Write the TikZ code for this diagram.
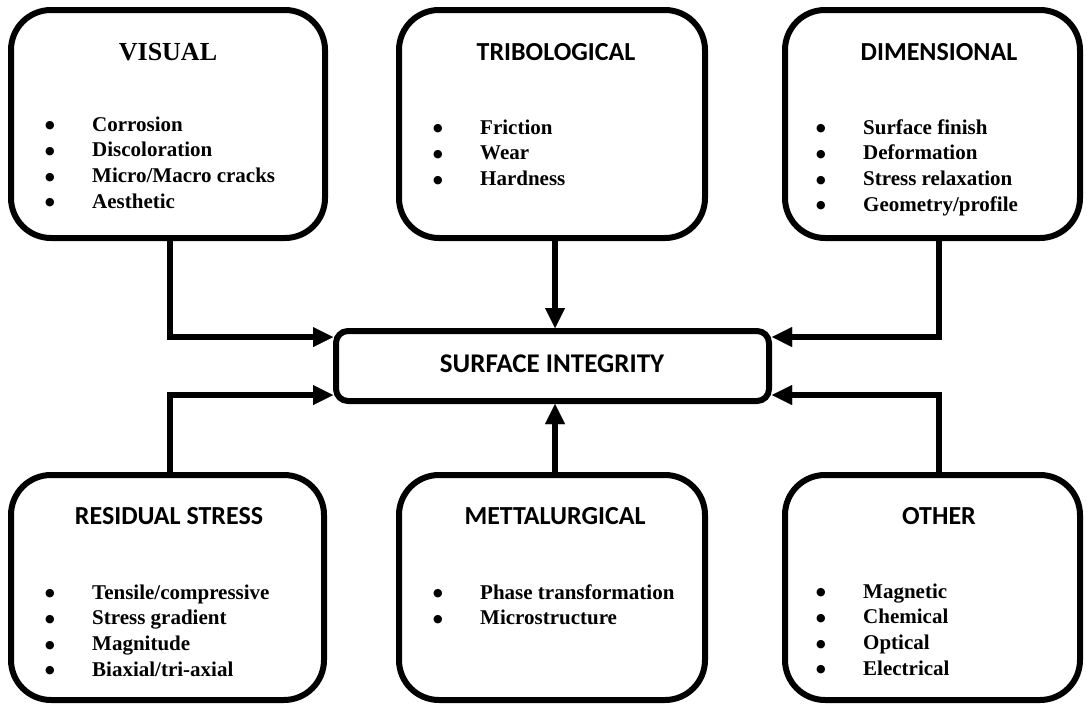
\documentclass[tikz,border=0pt]{standalone}
\usepackage{fontspec}
\setmainfont{Liberation Serif}
\newfontfamily\headfont{Carlito}
\newfontfamily\symfont{DejaVu Sans}
\usetikzlibrary{arrows.meta}

% one bullet line of a property list
\newcommand{\itm}[1]{\rule{0pt}{18pt}\makebox[47pt][l]{\raisebox{2.5pt}{\symfont\fontsize{11}{11}\selectfont ●}}#1}

\begin{document}
\begin{tikzpicture}[x=1pt,y=-1pt,
  groupbox/.style={draw, line width=6pt, rounded corners=40pt,
                   inner sep=0pt, minimum height=#1},
  groupbox/.default=228pt,
  corebox/.style={draw, line width=6pt, rounded corners=12pt,
                  inner sep=0pt, minimum width=433pt, minimum height=70pt},
  headtext/.style={inner sep=0pt, font=\headfont\fontsize{26}{30}\selectfont\bfseries},
  serifhead/.style={inner sep=0pt, font=\fontsize{26}{30}\selectfont\bfseries},
  itemlist/.style={inner sep=0pt, anchor=north west, align=left,
                   font=\fontsize{21}{25.7}\selectfont\bfseries},
  link/.style={line width=6pt, line join=miter,
               -{Triangle[length=20pt,width=20pt,line width=0.01pt]}}]
\useasboundingbox (0,0) rectangle (1087,704);

% ---------- upper row ----------
\node[groupbox, minimum width=314pt] (vis) at (168,124) {};
\node[serifhead] (vist) at (168,52) {VISUAL};
\node[itemlist] (visl) at (45,113)
  {\itm{Corrosion}\\\itm{Discoloration}\\\itm{Micro/Macro cracks}\\\itm{Aesthetic}};

\node[groupbox, minimum width=306pt] (trib) at (552,124) {};
\node[headtext] (tribt) at (556,52) {TRIBOLOGICAL};
\node[itemlist] (tribl) at (433,116)
  {\itm{Friction}\\\itm{Wear}\\\itm{Hardness}};

\node[groupbox, minimum width=295pt] (dim) at (932.5,124) {};
\node[headtext] (dimt) at (939,52) {DIMENSIONAL};
\node[itemlist] (diml) at (816,116)
  {\itm{Surface finish}\\\itm{Deformation}\\\itm{Stress relaxation}\\\itm{Geometry/profile}};

% ---------- centre ----------
\node[corebox] (si) at (552.5,366) {};
\node[headtext, font=\headfont\fontsize{27}{31}\selectfont\bfseries] (sit) at (552,364) {SURFACE INTEGRITY};

% ---------- lower row ----------
\node[groupbox=225pt, minimum width=313pt] (res) at (167.5,587.5) {};
\node[headtext] (rest) at (169,516) {RESIDUAL STRESS};
\node[itemlist] (resl) at (45,581)
  {\itm{Tensile/compressive}\\\itm{Stress gradient}\\\itm{Magnitude}\\\itm{Biaxial/tri-axial}};

\node[groupbox=225pt, minimum width=306pt] (mett) at (552,587.5) {};
\node[headtext] (mettt) at (555,516) {METTALURGICAL};
\node[itemlist] (mettl) at (433,581)
  {\itm{Phase transformation}\\\itm{Microstructure}};

\node[groupbox=225pt, minimum width=295pt] (oth) at (932.5,587.5) {};
\node[headtext] (otht) at (939,516) {OTHER};
\node[itemlist] (othl) at (816,580)
  {\itm{Magnetic}\\\itm{Chemical}\\\itm{Optical}\\\itm{Electrical}};

% ---------- connectors ----------
\draw[link] ([xshift=2pt]vis.south) |- ([yshift=-9pt]si.north west);
\draw[link] ([xshift=3pt]trib.south) -- ([xshift=3pt]trib.south |- si.north);
\draw[link] (dimt |- dim.south) |- ([yshift=-9pt]si.north east);
\draw[link] ([xshift=2pt]res.north) |- ([yshift=9pt]si.south west);
\draw[link] ([xshift=3pt]mett.north) -- ([xshift=3pt]mett.north |- si.south);
\draw[link] (otht |- oth.north) |- ([yshift=9pt]si.south east);
\end{tikzpicture}
\end{document}
